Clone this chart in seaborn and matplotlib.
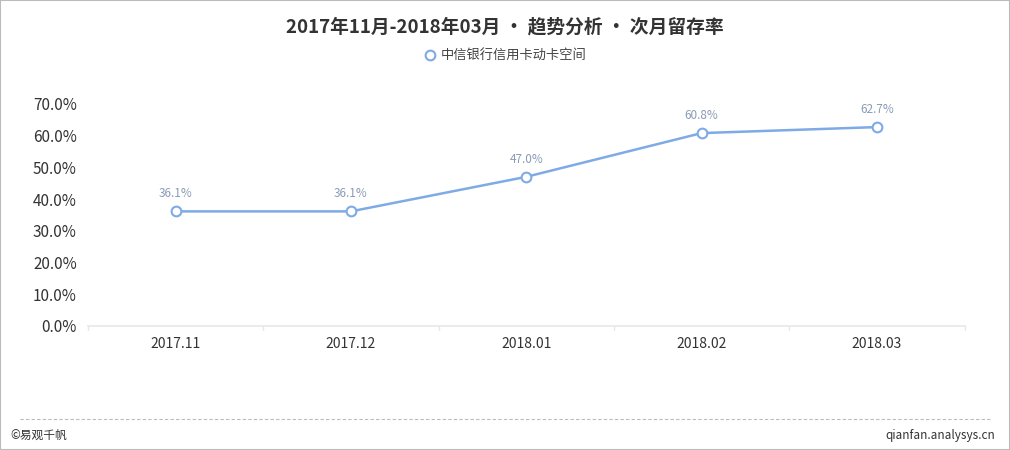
import numpy as np
import pandas as pd
import seaborn as sns
import matplotlib.pyplot as plt
from matplotlib.lines import Line2D

months = ['2017.11', '2017.12', '2018.01', '2018.02', '2018.03']
retention = [36.1, 36.1, 47.0, 60.8, 62.7]
series_name = '中信银行信用卡动卡空间'
yticks = [0, 10, 20, 30, 40, 50, 60, 70]

df = pd.DataFrame({'month': months, 'rate': retention})

sns.set_theme(style='white')
plt.rcParams['font.family'] = ['Noto Sans CJK SC', 'DejaVu Sans']

fig = plt.figure(figsize=(10.1, 4.5), dpi=100)
ax = fig.add_axes([0.087, 0.276, 0.868, 0.493])

line_color = '#7eaae6'
sns.lineplot(data=df, x='month', y='rate', ax=ax, color=line_color, linewidth=1.8,
             marker='o', markersize=7, markerfacecolor='white',
             markeredgecolor=line_color, markeredgewidth=1.5, sort=False)

for i, v in enumerate(retention):
    ax.annotate(f'{v:.1f}%', (i, v), xytext=(0, 8), textcoords='offset points',
                ha='center', va='bottom', fontsize=8.5, color='#8a9bb5')

ax.set_xlim(-0.5, len(months) - 0.5)
ax.set_ylim(0, 70)
ax.set_yticks(yticks)
ax.set_yticklabels([f'{t:.1f}%' for t in yticks], fontsize=11, color='#333333')
ax.set_xticks(range(len(months)))
ax.set_xticklabels(months, fontsize=10, color='#333333')
ax.tick_params(axis='both', length=0, pad=8)
ax.set_xlabel('')
ax.set_ylabel('')
for side in ['top', 'right', 'left']:
    ax.spines[side].set_visible(False)
ax.spines['bottom'].set_color('#e8e8e8')
for b in np.arange(-0.5, len(months), 1):
    ax.plot([b, b], [0, -1.2], color='#e8e8e8', lw=1, clip_on=False)

fig.text(0.5, 0.94, '2017年11月-2018年03月 • 趋势分析 • 次月留存率', ha='center', va='center',
         fontsize=13.5, fontweight='bold', color='#333333')

handle = Line2D([], [], color='none', marker='o', markersize=7, markerfacecolor='white',
                markeredgecolor=line_color, markeredgewidth=1.5)
fig.legend([handle], [series_name], loc='center', bbox_to_anchor=(0.5, 0.875),
           frameon=False, fontsize=9.5, handletextpad=0.3, handlelength=1,
           labelcolor='#444444')

fig.add_artist(Line2D([0.02, 0.98], [0.068, 0.068], color='#bbbbbb', lw=0.8,
                      linestyle=(0, (3, 2)), transform=fig.transFigure))
fig.text(0.01, 0.032, '©易观千帆', ha='left', va='center', fontsize=8.5, color='#333333')
fig.text(0.985, 0.032, 'qianfan.analysys.cn', ha='right', va='center', fontsize=8.5, color='#333333')

fig.add_artist(plt.Rectangle((0, 0), 1, 1, fill=False, edgecolor='#bbbbbb', lw=1.5,
                             transform=fig.transFigure))

fig.savefig('out.png', dpi=100)
